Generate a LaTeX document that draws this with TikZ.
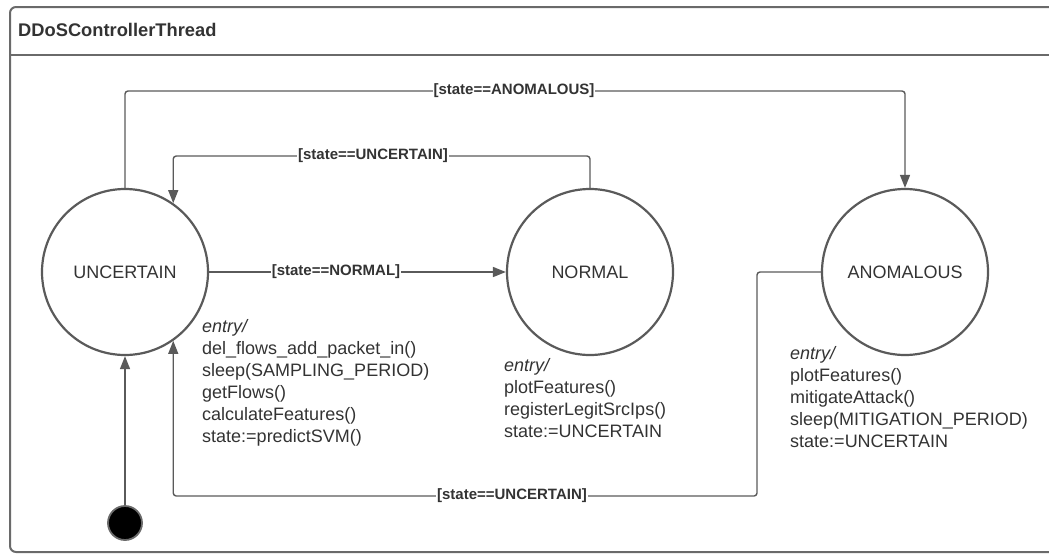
\documentclass[tikz,border=0pt]{standalone}
\usepackage{fontspec}
\setmainfont{Liberation Sans}
\usetikzlibrary{arrows.meta}

\definecolor{edgegray}{HTML}{5A5A5A}
\definecolor{framegray}{HTML}{6A6A6A}
\definecolor{ink}{HTML}{333333}

\begin{document}
\begin{tikzpicture}[x=1pt,y=-1pt,
  statecirc/.style={circle, draw=edgegray, line width=2.2pt, minimum size=166pt,
    inner sep=0pt, text=ink, font=\fontsize{18}{22}\selectfont},
  trans/.style={draw=edgegray, line width=1.4pt, rounded corners=3pt,
    -{Triangle[length=13pt,width=10pt]}},
  guard/.style={fill=white, inner sep=1pt, text=ink,
    font=\fontsize{15}{17}\selectfont\bfseries},
  actions/.style={anchor=base west, align=left, inner sep=0pt, text=ink,
    font=\fontsize{18}{22}\selectfont},
]
\useasboundingbox (0,0) rectangle (1049,554);
\clip (0,0) rectangle (1049,554);

% composite state frame with its name compartment
\draw[framegray, line width=2pt, rounded corners=6pt]
  (1080,7) -- (10,7) -- (10,552) -- (1080,552);
\draw[framegray, line width=2pt] (10,55) -- (1080,55);
\node[anchor=west, inner sep=0pt, text=ink,
  font=\fontsize{18.3}{22}\selectfont\bfseries] (title) at (18,30) {DDoSControllerThread};

% states
\node[statecirc] (unc) at (125,272) {UNCERTAIN};
\node[statecirc] (nor) at (590,272) {NORMAL};
\node[statecirc] (ano) at (905,272) {ANOMALOUS};

% initial pseudostate
\node[circle, fill=black, draw=framegray, line width=1.8pt, minimum size=34pt,
  inner sep=0pt] (init) at (125,523) {};
\draw[trans] (init) -- (unc);

% routing levels
\coordinate (topy) at (0,91);
\coordinate (midy) at (0,156);
\coordinate (brk) at (757,496);

% UNCERTAIN -> ANOMALOUS
\draw[trans] (unc.north) -- (unc.north |- topy) -- (ano.north |- topy) -- (ano.north);
\node[guard] (gano) at (514,91) {[state==ANOMALOUS]};

% NORMAL -> UNCERTAIN
\draw[trans] (nor.north) -- (nor.north |- midy) -- (unc.55 |- midy) -- (unc.55);
\node[guard] (gunc1) at (373,156) {[state==UNCERTAIN]};

% UNCERTAIN -> NORMAL
\draw[trans] (unc) -- (nor);
\node[guard] (gnor) at (336,272) {[state==NORMAL]};

% ANOMALOUS -> UNCERTAIN
\draw[trans] (ano.west) -- (ano.west -| brk) -- (brk) -- (brk -| unc.-55) -- (unc.-55);
\node[guard] (gunc2) at (512,496) {[state==UNCERTAIN]};

% entry actions (anchored at the baseline of the last line)
\node[actions] (uncact) at (202,442.5) {\textit{entry/}\\
  del\_flows\_add\_packet\_in()\\
  sleep(SAMPLING\_PERIOD)\\
  getFlows()\\
  calculateFeatures()\\
  state:=predictSVM()};
\node[actions] (noract) at (504,437.5) {\textit{entry/}\\
  plotFeatures()\\
  registerLegitSrcIps()\\
  state:=UNCERTAIN};
\node[actions] (anoact) at (790,447.5) {\textit{entry/}\\
  plotFeatures()\\
  mitigateAttack()\\
  sleep(MITIGATION\_PERIOD)\\
  state:=UNCERTAIN};
\end{tikzpicture}
\end{document}
